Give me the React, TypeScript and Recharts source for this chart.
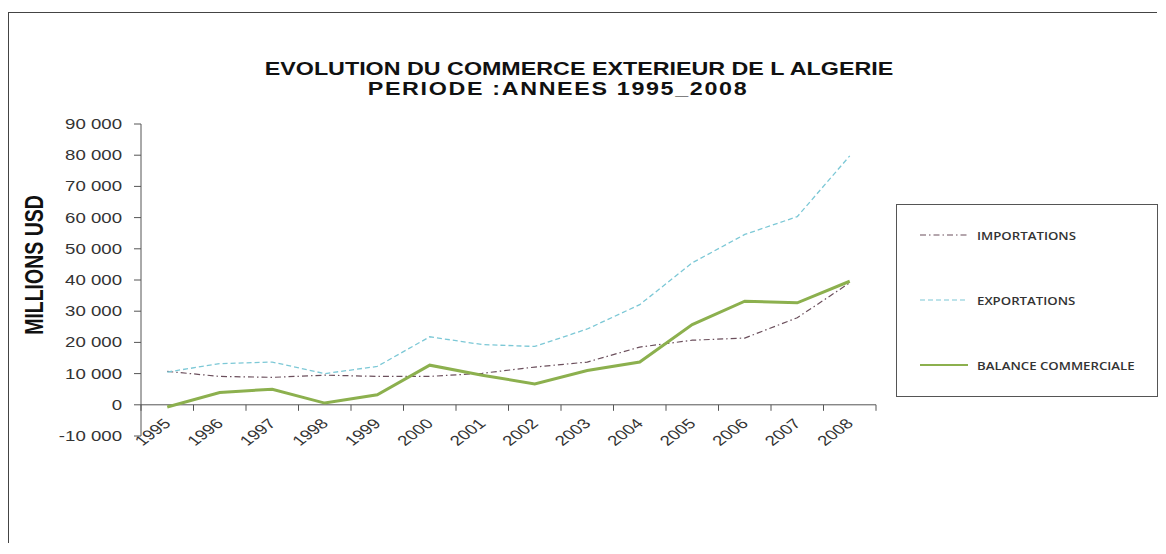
import React from 'react';
import { Legend, Line, LineChart, ReferenceLine, XAxis, YAxis } from 'recharts';

// values (millions USD)
const years = ['1995', '1996', '1997', '1998', '1999', '2000', '2001', '2002', '2003', '2004', '2005', '2006', '2007', '2008'];
const importations = [10700, 9100, 8800, 9500, 9100, 9100, 10100, 12100, 13700, 18500, 20700, 21400, 27900, 39100];
const exportations = [10500, 13200, 13700, 10000, 12300, 21800, 19300, 18700, 24300, 32100, 45500, 54600, 60300, 79800];
const balance = [-700, 3950, 5000, 550, 3200, 12700, 9500, 6700, 11000, 13700, 25700, 33200, 32700, 39600];
const yTicks = [-10000, 0, 10000, 20000, 30000, 40000, 50000, 60000, 70000, 80000, 90000];

const data = years.map((year, i) => ({
	year,
	importations: importations[i],
	exportations: exportations[i],
	balance: balance[i],
}));

const series = [
	{ key: 'importations', name: 'IMPORTATIONS', color: '#6b4f5c', width: 1.2, dash: '6 3 1.5 3' },
	{ key: 'exportations', name: 'EXPORTATIONS', color: '#7cc8d6', width: 1.3, dash: '5 3' },
	{ key: 'balance', name: 'BALANCE COMMERCIALE', color: '#8cb04e', width: 3, dash: undefined },
];

// the source picture is stretched sideways, so text is too
const SX = 1.33;
const FONT = '"Liberation Sans", Arial, sans-serif';

const CHART_W = 1148;
const CHART_H = 490;
const MARGIN = { top: 111, right: 281, bottom: 27, left: 52 };
const X_AXIS_H = 40;
const PLOT_H = CHART_H - MARGIN.top - MARGIN.bottom - X_AXIS_H;
const Y_MIN = -10000;
const Y_MAX = 90000;

const fmt = (v: number) => {
	const s = Math.abs(v).toString().replace(/\B(?=(\d{3})+(?!\d))/g, ' ');
	return v < 0 ? '-' + s : s;
};

const YTick = ({ x, y, payload }: any) => (
	<text
		transform={`translate(${x},${y}) scale(${SX},1)`}
		textAnchor="end"
		dy="0.36em"
		fontSize={14}
		fill="#333"
		fontFamily={FONT}
	>
		{fmt(payload.value)}
	</text>
);

const XTick = ({ x, y, payload, index, visibleTicksCount }: any) => {
	const half = payload.offset || 26.25;
	const zeroY = y - (PLOT_H * (0 - Y_MIN)) / (Y_MAX - Y_MIN);
	const last = index === (visibleTicksCount ?? years.length) - 1;
	return (
		<g>
			<line x1={x - half} y1={zeroY} x2={x - half} y2={zeroY + 6} stroke="#555" />
			{last && <line x1={x + half} y1={zeroY} x2={x + half} y2={zeroY + 6} stroke="#555" />}
			<text
				transform={`translate(${x + 4.5},${y - 11.5}) scale(${SX},1) rotate(-45)`}
				textAnchor="end"
				fontSize={14}
				fill="#333"
				fontFamily={FONT}
			>
				{payload.value}
			</text>
		</g>
	);
};

const YLabel = ({ viewBox }: any) => {
	const vb = viewBox || { x: 52, y: 111, width: 80, height: 312 };
	const cx = vb.x - 18;
	const cy = vb.y + vb.height / 2 - 15;
	return (
		<text
			transform={`translate(${cx},${cy}) scale(${SX},1) rotate(-90)`}
			textAnchor="middle"
			fontSize={19.5}
			fontWeight="bold"
			fill="#111"
			fontFamily={FONT}
		>
			MILLIONS USD
		</text>
	);
};

const LegendBox = () => (
	<div
		style={{
			width: 262,
			height: 193,
			border: '1px solid #555',
			boxSizing: 'border-box',
			background: '#fff',
			position: 'relative',
		}}
	>
		{series.map((s, i) => (
			<div
				key={s.key}
				style={{
					position: 'absolute',
					left: 23,
					top: 22 + i * 65,
					height: 16,
					display: 'flex',
					alignItems: 'center',
					whiteSpace: 'nowrap',
				}}
			>
				<svg width={48} height={6}>
					<line x1={0} y1={3} x2={48} y2={3} stroke={s.color} strokeWidth={s.width === 3 ? 2 : 1.2} strokeDasharray={s.dash} />
				</svg>
				<span
					style={{
						marginLeft: 9,
						fontFamily: '"Open Sans", sans-serif',
						fontWeight: 600,
						fontSize: 11.5,
						color: '#333',
						display: 'inline-block',
						transform: 'scaleX(1.15)',
						transformOrigin: 'left center',
					}}
				>
					{s.name}
				</span>
			</div>
		))}
	</div>
);

const titleStyle: React.CSSProperties = {
	position: 'absolute',
	width: 800,
	textAlign: 'center',
	fontFamily: FONT,
	fontWeight: 'bold',
	fontSize: 17.5,
	lineHeight: '20px',
	color: '#111',
	transform: `scaleX(${SX})`,
	transformOrigin: '50% 50%',
	whiteSpace: 'nowrap',
};

export default function App() {
	return (
		<div style={{ paddingTop: 4 }}>
			<div
				style={{
					position: 'relative',
					width: 1148,
					height: 530,
					borderLeft: '1px solid #444',
					borderTop: '1px solid #444',
					background: '#fff',
				}}
			>
				<div style={{ ...titleStyle, left: 570 - 400, top: 46 }}>
					EVOLUTION DU COMMERCE EXTERIEUR DE L ALGERIE
				</div>
				<div style={{ ...titleStyle, left: 549 - 400, top: 65.5, letterSpacing: 1.25 }}>
					PERIODE :ANNEES 1995_2008
				</div>
				<div style={{ position: 'absolute', left: 0, top: 0 }}>
					<LineChart width={CHART_W} height={CHART_H} data={data} margin={MARGIN}>
						<XAxis
							dataKey="year"
							scale="band"
							height={X_AXIS_H}
							axisLine={false}
							tickLine={false}
							tickSize={0}
							tickMargin={0}
							interval={0}
							tick={<XTick />}
						/>
						<YAxis
							width={80}
							domain={[Y_MIN, Y_MAX]}
							ticks={yTicks}
							interval={0}
							axisLine={{ stroke: '#555' }}
							tickLine={{ stroke: '#555' }}
							tickSize={7}
							tickMargin={12}
							tick={<YTick />}
							label={{ content: <YLabel /> }}
						/>
						<ReferenceLine y={0} stroke="#555" />
						{series.map((s) => (
							<Line
								key={s.key}
								type="linear"
								dataKey={s.key}
								name={s.name}
								stroke={s.color}
								strokeWidth={s.width}
								strokeDasharray={s.dash}
								dot={false}
								activeDot={false}
								isAnimationActive={false}
							/>
						))}
						<Legend
							layout="horizontal"
							align="center"
							verticalAlign="middle"
							content={<LegendBox />}
							wrapperStyle={{ position: 'absolute', left: 887, top: 191, width: 262, height: 193 }}
						/>
					</LineChart>
				</div>
			</div>
		</div>
	);
}
